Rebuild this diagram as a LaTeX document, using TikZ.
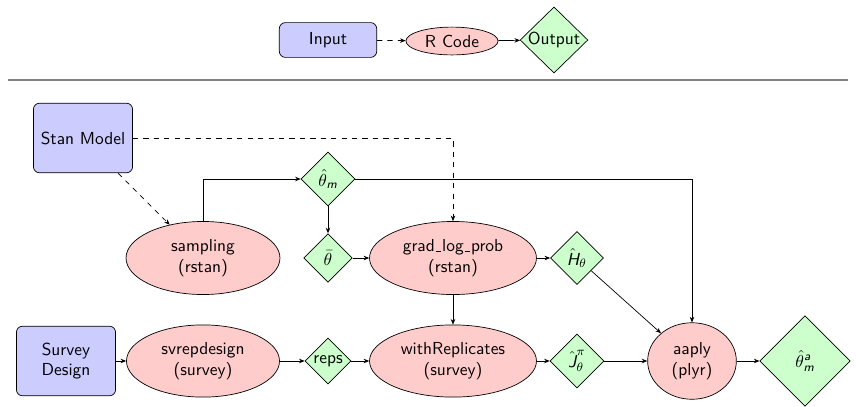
\documentclass[tikz,border=0pt]{standalone}
\usepackage{amsmath}
\usepackage{fontspec}
\usetikzlibrary{shapes.geometric,arrows.meta}
\definecolor{boxblue}{RGB}{204,204,255}
\definecolor{ellred}{RGB}{255,204,204}
\definecolor{diagreen}{RGB}{204,255,204}
\tikzset{
  every node/.style={font=\sffamily},
  inbox/.style={draw, rounded corners=3.5pt, fill=boxblue, inner sep=0pt, align=center},
  code/.style={draw, ellipse, fill=ellred, inner sep=0pt, align=center},
  outdia/.style={draw, diamond, fill=diagreen, inner sep=0pt},
  arr/.style={-{Stealth[length=3.2pt,width=2.6pt]}},
  darr/.style={arr, dashed},
}
\newcommand{\zb}[1]{\makebox[0pt]{#1}}
\newcommand{\si}[1]{\text{\itshape #1}}
\newcommand{\us}{\leavevmode\kern.06em\vbox{\hrule width.3em}\kern.06em}
\begin{document}
\begin{tikzpicture}[x=0.575pt, y=-0.575pt]
\useasboundingbox (0,0) rectangle (856,406);
% legend
\node[inbox, minimum width=56pt, minimum height=20pt] (input) at (328,40) {Input};
\node[code, minimum width=53pt, minimum height=16pt] (rcode) at (452,41) {R Code};
\node[outdia, minimum width=39pt, minimum height=38pt] (output) at (554,40) {\zb{Output}};
\draw[darr] (input) -- (rcode);
\draw[arr] (rcode) -- (output);
\coordinate (ruleL) at (8,80);
\coordinate (ruleR) at (848,80);
\draw[gray, line width=1.2pt] (ruleL) -- (ruleR);
% main
\node[inbox, minimum width=57pt, minimum height=40pt] (stan) at (83,138) {Stan Model};
\node[inbox, minimum width=57pt, minimum height=40pt] (survey) at (66,361) {Survey\\Design};
\node[code, minimum width=88.5pt, minimum height=42pt] (sampling) at (203,258) {sampling\\(rstan)};
\node[outdia, minimum width=31pt, minimum height=31pt] (thm) at (328,179) {$\hat\theta_{\si{m}}$};
\node[outdia, minimum width=28pt, minimum height=28pt] (thbar) at (328,258) {$\bar\theta$};
\node[code, minimum width=96pt, minimum height=42pt] (grad) at (453,258) {grad\us log\us prob\\(rstan)};
\node[outdia, minimum width=30.5pt, minimum height=30.5pt] (H) at (577,258) {$\hat{\si{H}}_\theta$};
\node[code, minimum width=88pt, minimum height=41.5pt] (svrep) at (203,361) {svrepdesign\\(survey)};
\node[outdia, minimum width=26.5pt, minimum height=26.5pt] (reps) at (328,361) {\zb{reps}};
\node[code, minimum width=96pt, minimum height=41.5pt] (withrep) at (453,361) {withReplicates\\(survey)};
\node[outdia, minimum width=31pt, minimum height=31pt] (J) at (577,361) {$\hat{\si{J}}^{\pi}_{\theta}$};
\node[code, minimum width=51pt, minimum height=44pt] (aaply) at (692,361) {aaply\\(plyr)};
\node[outdia, minimum width=52pt, minimum height=52pt] (tha) at (805,361) {$\hat\theta^{\si{a}}_{\si{m}}$};
% connectors
\draw[darr] (stan) -- (sampling);
\draw[darr] (stan) -| (grad);
\draw[arr] (sampling) |- (thm);
\draw[arr] (thm) -| (aaply);
\draw[arr] (thm) -- (thbar);
\draw[arr] (thbar) -- (grad);
\draw[arr] (grad) -- (H);
\draw[arr] (H) -- (aaply);
\draw[arr] (grad) -- (withrep);
\draw[arr] (survey) -- (svrep);
\draw[arr] (svrep) -- (reps);
\draw[arr] (reps) -- (withrep);
\draw[arr] (withrep) -- (J);
\draw[arr] (J) -- (aaply);
\draw[arr] (aaply) -- (tha);
\end{tikzpicture}
\end{document}
